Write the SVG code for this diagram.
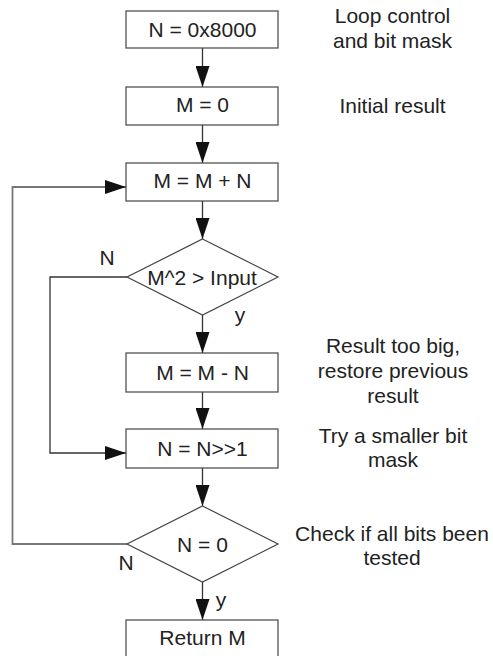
<svg xmlns="http://www.w3.org/2000/svg" width="493" height="656" viewBox="0 0 493 656">
<defs>
<style>
text{font-family:"Liberation Sans",Arial,sans-serif;font-size:21px;fill:#222;text-anchor:middle}
.box{fill:#fff;stroke:#444;stroke-width:1.2}
.ln{fill:none;stroke:#333;stroke-width:1.3}
.loop{fill:none;stroke:#777;stroke-width:1.8}
</style>
<marker id="ah" viewBox="0 0 21 14" refX="21" refY="7" markerWidth="21" markerHeight="14" markerUnits="userSpaceOnUse" orient="auto">
<path d="M0,0 L21,7 L0,14 Z" fill="#111"/>
</marker>
</defs>
<rect width="493" height="656" fill="#fff"/>
<g id="connectors">
<line class="ln" x1="202.5" y1="48" x2="202.5" y2="87" marker-end="url(#ah)"/>
<line class="ln" x1="202.5" y1="125" x2="202.5" y2="163" marker-end="url(#ah)"/>
<line class="ln" x1="202.5" y1="201" x2="202.5" y2="239" marker-end="url(#ah)"/>
<line class="ln" x1="202.5" y1="315" x2="202.5" y2="353" marker-end="url(#ah)"/>
<line class="ln" x1="202.5" y1="392" x2="202.5" y2="429" marker-end="url(#ah)"/>
<line class="ln" x1="202.5" y1="468" x2="202.5" y2="506" marker-end="url(#ah)"/>
<line class="ln" x1="202.5" y1="582" x2="202.5" y2="620" marker-end="url(#ah)"/>
<polyline class="ln" points="127,277 50,277 50,453 126,453" marker-end="url(#ah)"/>
<polyline class="loop" points="127,544 12.5,544 12.5,187 126,187" marker-end="url(#ah)"/>
<text x="107" y="265">N</text>
<text x="240" y="322">y</text>
<text x="126" y="570">N</text>
<text x="221" y="607">y</text>
</g>
<g id="n1"><rect class="box" x="126" y="11" width="152" height="37"/><text x="202.5" y="37">N = 0x8000</text></g>
<g id="n2"><rect class="box" x="126" y="87" width="152" height="38"/><text x="202.5" y="112">M = 0</text></g>
<g id="n3"><rect class="box" x="126" y="163" width="152" height="38"/><text x="202.5" y="188">M = M + N</text></g>
<g id="d1"><polygon class="box" points="202.5,239 278,277 202.5,315 127,277"/><text x="202" y="285">M^2 &gt; Input</text></g>
<g id="n4"><rect class="box" x="126" y="353" width="152" height="39"/><text x="202.5" y="380">M = M - N</text></g>
<g id="n5"><rect class="box" x="126" y="429" width="152" height="39"/><text x="202.5" y="456">N = N&gt;&gt;1</text></g>
<g id="d2"><polygon class="box" points="202.5,506 278,544 202.5,582 127,544"/><text x="202.5" y="552">N = 0</text></g>
<g id="n6"><rect class="box" x="126" y="620" width="152" height="40"/><text x="202.5" y="645">Return M</text></g>
<g id="notes">
<text x="392.5" y="23">Loop control</text>
<text x="392.5" y="48">and bit mask</text>
<text x="392.5" y="113">Initial result</text>
<text x="393" y="353">Result too big,</text>
<text x="393" y="378">restore previous</text>
<text x="393" y="403">result</text>
<text x="393" y="443">Try a smaller bit</text>
<text x="393" y="467">mask</text>
<text x="392" y="541">Check if all bits been</text>
<text x="392" y="565">tested</text>
</g>
</svg>
